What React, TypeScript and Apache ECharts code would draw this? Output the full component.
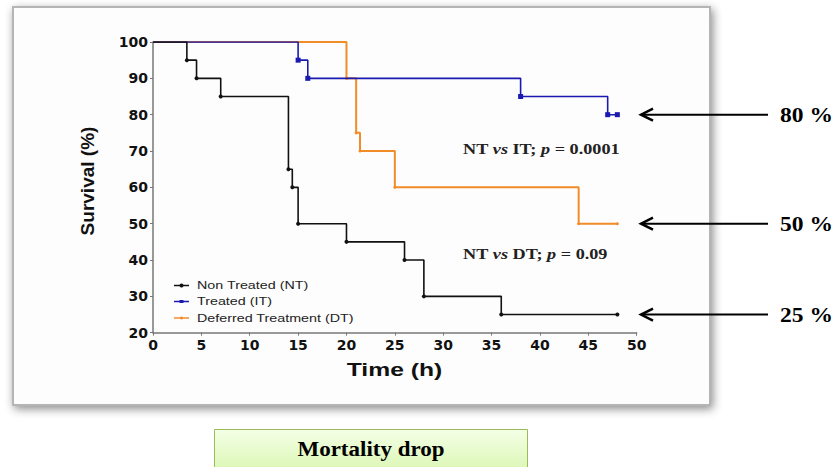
import React, { useEffect, useRef } from "react";
import * as echarts from "echarts";

const ntTimes = [0, 3.5, 4.5, 7, 14, 14.4, 15, 20, 26, 28, 36, 48];
const ntSurv = [100, 95, 90, 85, 65, 60, 50, 45, 40, 30, 25, 25];
const itTimes = [0, 15, 16, 38, 47, 48];
const itSurv = [100, 95, 90, 85, 80, 80];
const dtTimes = [0, 20, 21, 21.4, 25, 44, 48];
const dtSurv = [100, 90, 75, 70, 60, 50, 50];
const seriesNames = ["Non Treated (NT)", "Treated (IT)", "Deferred Treatment (DT)"];
const seriesColors = ["#111111", "#1a1ab0", "#f28c28"];
const arrowLabels = ["80 %", "50 %", "25 %"];
const arrowValues = [80, 50, 25];
const yTicks = { min: 20, max: 100, interval: 10 };
const xTicks = { min: 0, max: 50, interval: 5 };

const toData = (t: number[], s: number[]) =>
  t.map((x, i) => (i === 0 ? { value: [x, s[i]], symbol: "none" } : { value: [x, s[i]] }));

export default function App() {
  const ref = useRef<HTMLDivElement>(null);
  useEffect(() => {
    const chart = echarts.init(ref.current!, undefined, { renderer: "svg" });
    const gridLeft = 153;
    const gridTop = 42;
    const gridRight = 836 - 636.7;
    const gridBottom = 467 - 332.7;
    const plotH = 332.7 - 42;
    const yPix = (v: number) => gridTop + ((yTicks.max - v) / (yTicks.max - yTicks.min)) * plotH;

    const serif = "'Liberation Serif', 'Times New Roman', serif";
    const sans = "'Liberation Sans', Arial, sans-serif";
    const wide = "'DejaVu Sans', sans-serif";

    const arrows: any[] = [];
    arrowValues.forEach((v, i) => {
      const y = yPix(v);
      arrows.push({
        type: "line",
        shape: { x1: 641, y1: y, x2: 768, y2: y },
        style: { stroke: "#000", lineWidth: 2 },
        z: 10,
      });
      arrows.push({
        type: "polyline",
        shape: { points: [[653, y - 6], [641, y], [653, y + 6]] },
        style: { stroke: "#000", lineWidth: 2.5, fill: "none" },
        z: 10,
      });
      arrows.push({
        type: "text",
        x: 780,
        y: y,
        scaleX: 1.12,
        style: {
          text: arrowLabels[i],
          font: `bold 21px ${serif}`,
          fill: "#000",
          verticalAlign: "middle",
          align: "left",
        },
        z: 10,
      });
    });

    const legendItems: any[] = [];
    const legendRows = [285.5, 301.5, 318];
    seriesNames.forEach((n, i) => {
      const y = legendRows[i];
      legendItems.push({
        type: "line",
        shape: { x1: 174, y1: y, x2: 189, y2: y },
        style: { stroke: seriesColors[i], lineWidth: 1.5 },
        z: 10,
      });
      if (i === 1) {
        legendItems.push({
          type: "rect",
          shape: { x: 179.5, y: y - 1.5, width: 4, height: 3 },
          style: { fill: seriesColors[i] },
          z: 10,
        });
      } else {
        legendItems.push({
          type: "circle",
          shape: { cx: 181.5, cy: y, r: i === 0 ? 2 : 1.5 },
          style: { fill: seriesColors[i] },
          z: 10,
        });
      }
      legendItems.push({
        type: "text",
        x: 197,
        y: y,
        scaleX: 1.3,
        style: {
          text: n,
          font: `11px ${sans}`,
          fill: "#222",
          verticalAlign: "middle",
          align: "left",
        },
        z: 10,
      });
    });

    const rich = {
      b: { font: `bold 14px ${serif}`, fill: "#222" },
      i: { font: `italic bold 14px ${serif}`, fill: "#222" },
    };

    chart.setOption({
      animation: false,
      backgroundColor: "#ffffff",
      grid: { left: gridLeft, right: gridRight, top: gridTop, bottom: gridBottom },
      xAxis: {
        type: "value",
        min: xTicks.min,
        max: xTicks.max,
        interval: xTicks.interval,
        axisLine: { lineStyle: { color: "#777", width: 1.5 } },
        axisTick: { show: true, length: 3, lineStyle: { color: "#777" } },
        axisLabel: { fontFamily: wide, fontWeight: "bold", fontSize: 14, color: "#111", margin: 5 },
        splitLine: { show: false },
      },
      yAxis: {
        type: "value",
        min: yTicks.min,
        max: yTicks.max,
        interval: yTicks.interval,
        axisLine: { show: true, lineStyle: { color: "#777", width: 1.5 } },
        axisTick: { show: true, length: 3, lineStyle: { color: "#777" } },
        axisLabel: { fontFamily: wide, fontWeight: "bold", fontSize: 14, color: "#111", margin: 5 },
        splitLine: { show: false },
      },
      series: [
        {
          name: seriesNames[2],
          type: "line",
          step: "end",
          data: toData(dtTimes, dtSurv),
          lineStyle: { color: seriesColors[2], width: 2 },
          itemStyle: { color: seriesColors[2] },
          symbol: "circle",
          symbolSize: 3,
          z: 2,
        },
        {
          name: seriesNames[1],
          type: "line",
          step: "end",
          data: toData(itTimes, itSurv),
          lineStyle: { color: seriesColors[1], width: 1.6 },
          itemStyle: { color: seriesColors[1] },
          symbol: "rect",
          symbolSize: 5,
          z: 3,
        },
        {
          name: seriesNames[0],
          type: "line",
          step: "end",
          data: toData(ntTimes, ntSurv),
          lineStyle: { color: seriesColors[0], width: 1.6 },
          itemStyle: { color: seriesColors[0] },
          symbol: "circle",
          symbolSize: 4,
          z: 4,
        },
      ],
      graphic: [
        {
          type: "rect",
          shape: { x: 13, y: 7, width: 697, height: 398 },
          style: {
            fill: "#fdfdfd",
            stroke: "#b5b5b5",
            lineWidth: 2,
            shadowBlur: 10,
            shadowColor: "rgba(0,0,0,0.45)",
            shadowOffsetX: 2,
            shadowOffsetY: 3,
          },
          z: -10,
          silent: true,
        },
        {
          type: "text",
          x: 87.5,
          y: 181,
          rotation: Math.PI / 2,
          style: {
            text: "Survival (%)",
            font: `bold 19px ${sans}`,
            fill: "#111",
            align: "center",
            verticalAlign: "middle",
          },
          z: 10,
        },
        {
          type: "text",
          x: 394.5,
          y: 369.5,
          scaleX: 1.3,
          style: {
            text: "Time (h)",
            font: `bold 19px ${sans}`,
            fill: "#111",
            align: "center",
            verticalAlign: "middle",
          },
          z: 10,
        },
        ...legendItems,
        {
          type: "text",
          x: 463,
          y: 150,
          scaleX: 1.3,
          style: {
            text: "{b|NT }{i|vs}{b| IT; }{i|p}{b| = 0.0001}",
            rich,
            verticalAlign: "middle",
          },
          z: 10,
        },
        {
          type: "text",
          x: 463,
          y: 255,
          scaleX: 1.3,
          style: {
            text: "{b|NT }{i|vs}{b| DT; }{i|p}{b| = 0.09}",
            rich,
            verticalAlign: "middle",
          },
          z: 10,
        },
        ...arrows,
        {
          type: "rect",
          shape: { x: 214.5, y: 429.5, width: 313, height: 45 },
          style: {
            fill: new echarts.graphic.LinearGradient(0, 0, 0, 1, [
              { offset: 0, color: "#f4ffe6" },
              { offset: 1, color: "#d9f6b0" },
            ]),
            stroke: "#9bbb59",
            lineWidth: 1,
          },
          z: 10,
        },
        {
          type: "text",
          x: 371,
          y: 450,
          scaleX: 1.15,
          style: {
            text: "Mortality drop",
            font: `bold 20px ${serif}`,
            fill: "#000",
            align: "center",
            verticalAlign: "middle",
          },
          z: 11,
        },
      ],
    });
    return () => chart.dispose();
  }, []);
  return (
    <div
      ref={ref}
      style={{ position: "fixed", left: 0, top: 0, width: 836, height: 467 }}
    />
  );
}
